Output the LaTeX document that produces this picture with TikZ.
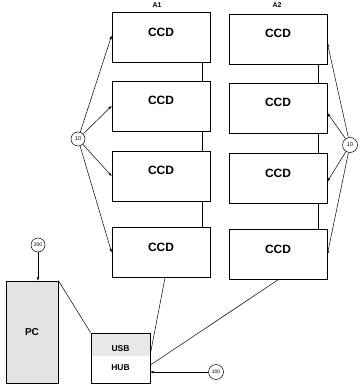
\documentclass[tikz,border=0pt]{standalone}
\usepackage{fontspec}
\setmainfont{Liberation Sans}
\usetikzlibrary{arrows.meta}
\begin{document}
\begin{tikzpicture}[x=1pt,y=-1pt,
  ccdbox/.style={draw, line width=0.7pt, minimum width=98pt, minimum height=50pt, inner sep=0pt,
     font=\fontsize{12}{12}\selectfont\bfseries, text height=9pt, text depth=11.4pt},
  ref/.style={draw, circle, line width=0.5pt, minimum size=15pt, inner sep=0pt, font=\fontsize{5.5}{6}\selectfont},
  conn/.style={line width=0.5pt},
  arr/.style={line width=0.5pt, -{Stealth[length=4pt,width=2.5pt]}},
  collab/.style={font=\fontsize{7}{7}\selectfont\bfseries}
]
\useasboundingbox (0,0) rectangle (360,390);
% A1 column
\node[ccdbox] (a1) at (161,37.5) {CCD};
\node[ccdbox] (a2) at (161,106) {CCD};
\node[ccdbox] (a3) at (161,176) {CCD};
\node[ccdbox] (a4) at (161,252.5) {CCD};
% A2 column
\node[ccdbox] (b1) at (278,39) {CCD};
\node[ccdbox] (b2) at (278,108) {CCD};
\node[ccdbox] (b3) at (278,178.5) {CCD};
\node[ccdbox] (b4) at (278,254.5) {CCD};
\node[collab] (la1) at (157,5) {A1};
\node[collab] (la2) at (277,5) {A2};
% chain connectors
\draw[conn] ([xshift=-8pt]a1.south east) -- ([xshift=-8pt]a2.north east);
\draw[conn] ([xshift=-8pt]a2.south east) -- ([xshift=-8pt]a3.north east);
\draw[conn] ([xshift=-8pt]a3.south east) -- ([xshift=-8pt]a4.north east);
\draw[conn] ([xshift=-9pt]b1.south east) -- ([xshift=-9pt]b2.north east);
\draw[conn] ([xshift=-9pt]b2.south east) -- ([xshift=-9pt]b3.north east);
\draw[conn] ([xshift=-9pt]b3.south east) -- ([xshift=-9pt]b4.north east);
% reference circles 10
\node[ref, minimum size=14pt] (r10l) at (78,139) {10};
\node[ref, minimum size=15pt] (r10r) at (350,145) {10};
\draw[arr] (r10l) -- ([yshift=2pt]a1.west);
\draw[arr] (r10l) -- (a2.west);
\draw[arr] (r10l) -- (a3.west);
\draw[arr] (r10l) -- (a4.west);
\draw[arr] (r10r) -- ([yshift=-4pt]b1.east);
\draw[arr] (r10r) -- ([yshift=-5pt]b2.east);
\draw[arr] (r10r) -- ([yshift=-3pt]b3.east);
\draw[arr] (r10r) -- (b4.east);
% PC
\node[draw, line width=0.7pt, fill=black!11, minimum width=52pt, minimum height=102pt, inner sep=0pt,
      font=\fontsize{10}{10}\selectfont\bfseries] (pc) at (32,332) {PC};
% USB HUB
\node[draw, line width=0.7pt, minimum width=59pt, minimum height=50pt, inner sep=0pt,
      path picture={\fill[black!9] (path picture bounding box.north west) rectangle ([yshift=-23pt]path picture bounding box.north east);},
      font=\fontsize{8.5}{19}\selectfont\bfseries, align=center] (hub) at (120.5,358) {USB\\HUB};
\node[ref, minimum size=14pt, font=\fontsize{5}{5}\selectfont] (r200) at (38,245) {200};
\node[ref, minimum size=15pt, font=\fontsize{5}{5}\selectfont] (r100) at (216,372) {100};
\draw[arr] (r200) -- (pc.north -| r200);
\draw[conn] (pc.north east) -- (hub.north west);
\draw[conn] ([xshift=4pt]a4.south) -- ([yshift=4pt]hub.east);
\draw[conn] (b4.south) -- ([yshift=-7pt]hub.east);
\draw[arr] (r100) -- (hub.east |- r100);
\end{tikzpicture}
\end{document}
